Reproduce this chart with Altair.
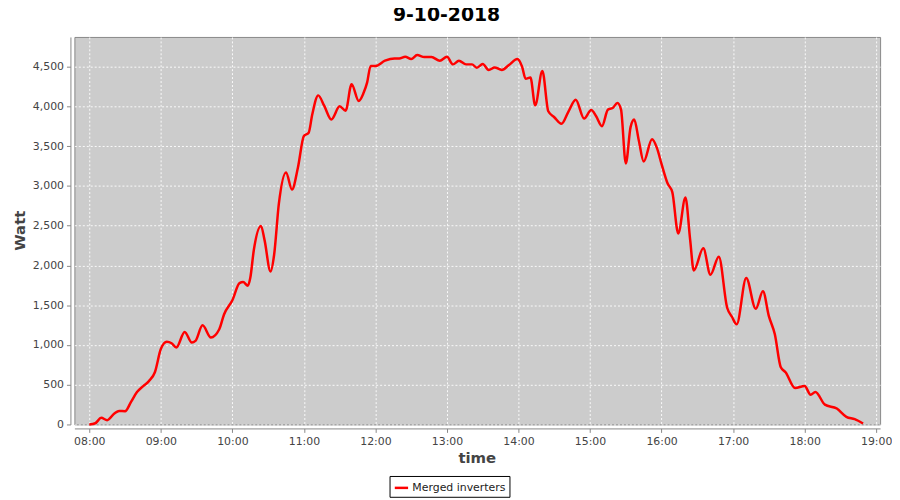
import altair as alt
import pandas as pd

TITLE = "9-10-2018"
SERIES = "Merged inverters"

times = [
    "08:00", "08:05", "08:10", "08:15", "08:21", "08:25", "08:30", "08:35", "08:40", "08:45",
    "08:50", "08:55", "09:00", "09:05", "09:09", "09:13", "09:20", "09:26", "09:29", "09:35",
    "09:42", "09:49", "09:53", "10:00", "10:06", "10:09", "10:13", "10:15", "10:18", "10:24",
    "10:27", "10:32", "10:35", "10:39", "10:45", "10:50", "10:55", "11:00", "11:04", "11:07",
    "11:12", "11:17", "11:23", "11:30", "11:35", "11:40", "11:46", "11:50", "11:53", "11:56",
    "12:00", "12:08", "12:16", "12:20", "12:25", "12:30", "12:35", "12:41", "12:47", "12:54",
    "13:00", "13:05", "13:10", "13:16", "13:21", "13:25", "13:30", "13:35", "13:40", "13:46",
    "13:52", "13:59", "14:03", "14:06", "14:10", "14:14", "14:20", "14:25", "14:30", "14:36",
    "14:42", "14:48", "14:55", "15:01", "15:05", "15:10", "15:15", "15:19", "15:23", "15:26",
    "15:30", "15:34", "15:37", "15:41", "15:45", "15:52", "15:56", "16:00", "16:05", "16:09",
    "16:14", "16:20", "16:24", "16:27", "16:35", "16:41", "16:48", "16:55", "16:59", "17:03",
    "17:11", "17:19", "17:25", "17:30", "17:35", "17:40", "17:44", "17:52", "18:00", "18:05",
    "18:09", "18:17", "18:27", "18:35", "18:42", "18:49",
]
watts = [
    0, 15, 83, 54, 137, 170, 166, 283, 407, 480,
    545, 657, 948, 1039, 1022, 968, 1164, 1031, 1051, 1247,
    1093, 1197, 1384, 1563, 1779, 1791, 1746, 1841, 2195, 2497,
    2319, 1924, 2132, 2777, 3171, 2955, 3233, 3628, 3670, 3899,
    4140, 4010, 3837, 4002, 3948, 4281, 4070, 4169, 4300, 4510,
    4509, 4576, 4605, 4605, 4626, 4597, 4647, 4622, 4622, 4576,
    4626, 4530, 4576, 4530, 4530, 4489, 4535, 4460, 4492, 4460,
    4522, 4597, 4501, 4348, 4364, 4015, 4448, 3940, 3865, 3782,
    3940, 4086, 3849, 3955, 3880, 3753, 3961, 3981, 4044, 3961,
    3283, 3741, 3836, 3566, 3308, 3587, 3483, 3275, 3034, 2922,
    2403, 2855, 2319, 1937, 2216, 1883, 2111, 1468, 1355, 1259,
    1842, 1455, 1675, 1363, 1135, 719, 657, 458, 483, 374,
    408, 249, 200, 96, 66, 12,
]
hour_ticks = list(range(8, 20))
watt_ticks = list(range(0, 5000, 500))

def to_hours(t):
    h, m = t.split(":")
    return int(h) + int(m) / 60.0

df = pd.DataFrame({
    "hour": [to_hours(t) for t in times],
    "watt": watts,
    "series": [SERIES] * len(times),
})

FONT = "DejaVu Sans"
grid_kw = dict(grid=True, gridColor="#ffffff", gridDash=[2, 2], gridWidth=1, gridOpacity=0.9)

chart = alt.Chart(df).mark_line(
    interpolate="monotone", strokeWidth=2.5
).encode(
    x=alt.X(
        "hour:Q",
        scale=alt.Scale(domain=[8 - 12.5 / 60, 19 + 3.3 / 60], nice=False, zero=False),
        axis=alt.Axis(
            values=hour_ticks,
            labelExpr="(datum.value < 10 ? '0' : '') + datum.value + ':00'",
            title="time",
            offset=4,
            titleX=406,
            titleY=29,
            titleAlign="center",
            titleBaseline="middle",
            labelPadding=3,
            **grid_kw,
        ),
    ),
    y=alt.Y(
        "watt:Q",
        scale=alt.Scale(domain=[0, 4875], nice=False),
        axis=alt.Axis(
            values=watt_ticks,
            format=",d",
            title="Watt",
            offset=4,
            titleX=-51,
            titleY=195,
            titleAngle=270,
            titleAlign="center",
            titleBaseline="middle",
            labelPadding=3,
            **grid_kw,
        ),
    ),
    color=alt.Color(
        "series:N",
        scale=alt.Scale(domain=[SERIES], range=["#ff0000"]),
        legend=alt.Legend(
            title=None,
            orient="none",
            legendX=318,
            legendY=443,
            direction="horizontal",
            strokeColor="#000000",
            fillColor="#ffffff",
            padding=4,
            symbolType="stroke",
            symbolStrokeWidth=2.5,
            symbolSize=180,
            labelFontSize=11,
            labelFont=FONT,
            labelColor="#222222",
            labelOffset=3,
        ),
    ),
).properties(
    width=813,
    height=391,
    autosize=alt.AutoSizeParams(type="none"),
    padding={"left": 67, "top": 27, "right": 12, "bottom": 72},
    background="#ffffff",
    title=alt.TitleParams(
        TITLE, font=FONT, fontSize=19, fontWeight="bold", color="#000000",
        anchor="middle", dx=-31, offset=12,
    ),
).configure_view(
    fill="#cccccc", stroke="#888888", strokeWidth=1,
).configure_axis(
    domainColor="#888888", tickColor="#888888", tickSize=4,
    labelFont=FONT, labelFontSize=11, labelColor="#444444",
    titleFont=FONT, titleFontSize=15, titleFontWeight="bold", titleColor="#444444",
)

chart.save("out.html", embed_options={"renderer": "svg", "actions": False})
